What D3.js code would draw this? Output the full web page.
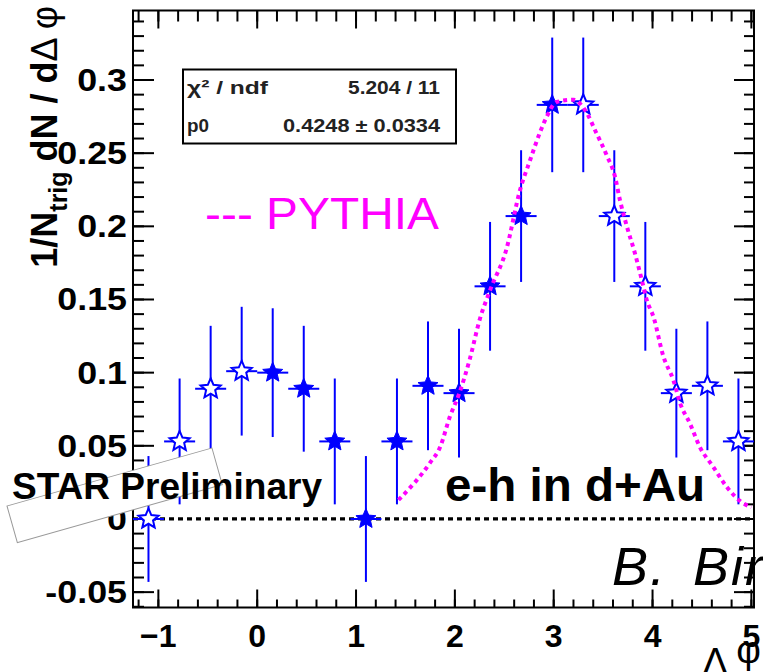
<!DOCTYPE html>
<html>
<head>
<meta charset="utf-8">
<script src="https://cdn.jsdelivr.net/npm/d3@7"></script>
<style>
  html, body { margin: 0; padding: 0; background: #fff; }
  svg { display: block; }
</style>
</head>
<body>
<svg id="chart" width="763" height="672"></svg>
<script>
// e-h azimuthal correlation in d+Au: measured bins (filled stars) and
// their reflections (open stars), with the PYTHIA expectation.
const binCentres = [-1.100, -0.785, -0.471, -0.157, 0.157, 0.471, 0.785, 1.100, 1.414, 1.728,
                    2.042, 2.356, 2.670, 2.985, 3.299, 3.613, 3.927, 4.241, 4.555, 4.869];
const yieldValues = [0.000, 0.053, 0.089, 0.101, 0.100, 0.089, 0.053, 0.000, 0.053, 0.091,
                     0.086, 0.159, 0.207, 0.283, 0.283, 0.207, 0.159, 0.086, 0.091, 0.053];
const yieldErrors = [0.043, 0.043, 0.043, 0.044, 0.044, 0.043, 0.043, 0.043, 0.043, 0.044,
                     0.044, 0.044, 0.045, 0.046, 0.046, 0.045, 0.044, 0.044, 0.044, 0.043];
const markerKinds = ["open", "open", "open", "open", "filled", "filled", "filled", "filled", "filled", "filled",
                     "filled", "filled", "filled", "filled", "open", "open", "open", "open", "open", "open"];
const binHalfWidth = 0.157;

// PYTHIA curve
const pythiaX = [1.43, 1.75, 1.85, 1.95, 2.04, 2.15, 2.25, 2.36, 2.52, 2.66, 2.76, 2.86, 2.93, 3.03,
                 3.20, 3.33, 3.43, 3.54, 3.62, 3.67, 3.74, 3.82, 3.90, 3.94, 4.01, 4.11, 4.21, 4.28,
                 4.38, 4.48, 4.61, 4.75, 4.89, 5.00];
const pythiaY = [0.013, 0.0385, 0.049, 0.070, 0.085, 0.109, 0.136, 0.157, 0.184, 0.225, 0.245, 0.264, 0.275, 0.285,
                 0.2865, 0.278, 0.264, 0.248, 0.234, 0.218, 0.200, 0.182, 0.161, 0.150, 0.138, 0.111, 0.095, 0.079,
                 0.065, 0.049, 0.036, 0.022, 0.012, 0.008];

const xTickValues = [-1, 0, 1, 2, 3, 4, 5];
const yTickValues = [-0.05, 0, 0.05, 0.1, 0.15, 0.2, 0.25, 0.3];
const yTickLabels = ["-0.05", "0", "0.05", "0.1", "0.15", "0.2", "0.25", "0.3"];
const fitRows = [["\u03c7\u00b2 / ndf", "5.204 / 11"], ["p0", "0.4248 \u00b1 0.0334"]];

const xDomain = [-0.4 * Math.PI, 1.6 * Math.PI];
const yDomain = [-0.0605, 0.3475];

const frame = { left: 133, right: 754, top: 10.5, bottom: 607.5 };
const svg = d3.select("#chart");
const FONT = "'Liberation Sans', Arial, Helvetica, sans-serif";

const x = d3.scaleLinear().domain(xDomain).range([frame.left, frame.right]);
const y = d3.scaleLinear().domain(yDomain).range([frame.bottom, frame.top]);

const minorX = d3.range(-12, 51, 2).map(v => v / 10).filter(v => v >= xDomain[0] && v <= xDomain[1]);
const minorY = d3.range(-6, 35, 1).map(v => v / 100).filter(v => v >= yDomain[0] && v <= yDomain[1]);

// ---- axes (ticks inside the frame on all four sides)
const gAxes = svg.append("g").attr("stroke", "#000").attr("fill", "none");

function ticks(values, len, side) {
  values.forEach(v => {
    if (side === "bottom") gAxes.append("line").attr("x1", x(v)).attr("x2", x(v)).attr("y1", frame.bottom).attr("y2", frame.bottom - len).attr("stroke-width", 2);
    if (side === "top") gAxes.append("line").attr("x1", x(v)).attr("x2", x(v)).attr("y1", frame.top).attr("y2", frame.top + len).attr("stroke-width", 2);
    if (side === "left") gAxes.append("line").attr("y1", y(v)).attr("y2", y(v)).attr("x1", frame.left).attr("x2", frame.left + len).attr("stroke-width", 2);
    if (side === "right") gAxes.append("line").attr("y1", y(v)).attr("y2", y(v)).attr("x1", frame.right).attr("x2", frame.right - len).attr("stroke-width", 2);
  });
}
ticks(minorX, 8, "bottom");
ticks(xTickValues, 18, "bottom");
ticks(minorX, 11, "top");
ticks(xTickValues, 18, "top");
ticks(minorY, 11, "left");
ticks(yTickValues, 21, "left");
ticks(minorY, 10, "right");
ticks(yTickValues, 20, "right");

gAxes.append("rect")
  .attr("x", frame.left).attr("y", frame.top)
  .attr("width", frame.right - frame.left).attr("height", frame.bottom - frame.top)
  .attr("stroke-width", 2);

// tick labels
svg.append("g").selectAll("text").data(xTickValues).join("text")
  .attr("x", d => x(d)).attr("y", 647)
  .attr("text-anchor", "middle")
  .attr("font-family", FONT).attr("font-weight", "bold").attr("font-size", 32)
  .text(d => d3.format("d")(d));

svg.append("g").selectAll("text").data(yTickValues).join("text")
  .attr("transform", d => `translate(127,${y(d) + 11}) scale(1.12,1)`)
  .attr("text-anchor", "end")
  .attr("font-family", FONT).attr("font-weight", "bold").attr("font-size", 32)
  .text((d, i) => yTickLabels[i]);

// axis titles
const yTitle = svg.append("text")
  .attr("transform", "translate(57,6) rotate(-90)")
  .attr("text-anchor", "end")
  .attr("font-family", FONT).attr("font-weight", "bold").attr("font-size", 36);
yTitle.append("tspan").text("1/N");
yTitle.append("tspan").attr("dy", 10).attr("font-size", 25).text("trig");
yTitle.append("tspan").attr("dy", -10).text(" dN / d");
yTitle.append("tspan").attr("font-weight", "normal").text("\u0394 \u03c6");

const xTitle = svg.append("text")
  .attr("x", 761).attr("y", 675)
  .attr("text-anchor", "end")
  .attr("font-family", FONT).attr("font-size", 38);
xTitle.append("tspan").text("\u0394 ");
xTitle.append("tspan").attr("dy", -12).text("\u03c6");

// zero line
svg.append("line")
  .attr("x1", frame.left).attr("x2", frame.right)
  .attr("y1", y(0)).attr("y2", y(0))
  .attr("stroke", "#000").attr("stroke-width", 3.2)
  .attr("stroke-dasharray", "5,4");

// ---- data points
const points = binCentres.map((c, i) => ({ x: c, v: yieldValues[i], e: yieldErrors[i], kind: markerKinds[i] }));
const blue = "#0000ff";
const gData = svg.append("g");

gData.selectAll("line.ey").data(points).join("line").attr("class", "ey")
  .attr("x1", d => x(d.x)).attr("x2", d => x(d.x))
  .attr("y1", d => y(d.v - d.e)).attr("y2", d => y(d.v + d.e))
  .attr("stroke", blue).attr("stroke-width", 2);
gData.selectAll("line.ex").data(points).join("line").attr("class", "ex")
  .attr("x1", d => x(d.x - binHalfWidth)).attr("x2", d => x(d.x + binHalfWidth))
  .attr("y1", d => y(d.v)).attr("y2", d => y(d.v))
  .attr("stroke", blue).attr("stroke-width", 2);

function starPath(rOut, rIn) {
  const pts = [];
  for (let k = 0; k < 10; k++) {
    const r = k % 2 === 0 ? rOut : rIn;
    const a = -Math.PI / 2 + k * Math.PI / 5;
    pts.push([r * Math.cos(a), r * Math.sin(a)]);
  }
  return "M" + pts.map(p => p[0].toFixed(2) + "," + p[1].toFixed(2)).join("L") + "Z";
}
const star = starPath(10.5, 4.8);

gData.selectAll("path.mk").data(points).join("path").attr("class", "mk")
  .attr("d", star)
  .attr("transform", d => `translate(${x(d.x)},${y(d.v)})`)
  .attr("fill", d => d.kind === "filled" ? blue : "#fff")
  .attr("stroke", blue).attr("stroke-width", d => d.kind === "filled" ? 1 : 2)
  .attr("stroke-linejoin", "miter");

// ---- PYTHIA curve
const line = d3.line().x(d => x(d[0])).y(d => y(d[1])).curve(d3.curveMonotoneX);
svg.append("path")
  .datum(pythiaX.map((v, i) => [v, pythiaY[i]]))
  .attr("d", line)
  .attr("fill", "none")
  .attr("stroke", "#ff00ff").attr("stroke-width", 4)
  .attr("stroke-dasharray", "4,4");

// ---- fit statistics box
svg.append("rect")
  .attr("x", 183).attr("y", 69.5).attr("width", 273).attr("height", 74)
  .attr("fill", "#fff").attr("stroke", "#000").attr("stroke-width", 2);
const fitLeftLen = [81, 22];
const fitRightLen = [92, 157];
fitRows.forEach((row, i) => {
  const base = [94, 132][i];
  svg.append("text").attr("x", 187).attr("y", base)
    .attr("font-family", FONT).attr("font-weight", "bold").attr("font-size", 19)
    .attr("textLength", fitLeftLen[i]).attr("lengthAdjust", "spacingAndGlyphs")
    .attr("fill", "#222").text(row[0]);
  svg.append("text").attr("x", 440 - fitRightLen[i]).attr("y", base)
    .attr("font-family", FONT).attr("font-weight", "bold").attr("font-size", 19)
    .attr("textLength", fitRightLen[i]).attr("lengthAdjust", "spacingAndGlyphs")
    .attr("fill", "#222").text(row[1]);
});

// ---- annotations
svg.append("text")
  .attr("x", 205).attr("y", 229)
  .attr("font-family", FONT).attr("font-size", 45)
  .attr("textLength", 234).attr("lengthAdjust", "spacingAndGlyphs")
  .attr("fill", "#ff00ff")
  .text("--- PYTHIA");

svg.append("rect")
  .attr("x", 0).attr("y", 0).attr("width", 213).attr("height", 38)
  .attr("transform", "translate(7,506) rotate(-15.8)")
  .attr("fill", "#fff").attr("stroke", "#999").attr("stroke-width", 1);

svg.append("text")
  .attr("x", 12).attr("y", 499)
  .attr("font-family", FONT).attr("font-weight", "bold").attr("font-size", 36)
  .attr("textLength", 310).attr("lengthAdjust", "spacingAndGlyphs")
  .attr("fill", "#000")
  .text("STAR Preliminary");

svg.append("text")
  .attr("x", 445).attr("y", 501)
  .attr("font-family", FONT).attr("font-weight", "bold").attr("font-size", 46)
  .attr("textLength", 260).attr("lengthAdjust", "spacingAndGlyphs")
  .attr("fill", "#000")
  .text("e-h in d+Au");

svg.append("text")
  .attr("x", 612).attr("y", 585)
  .attr("font-family", FONT).attr("font-style", "italic").attr("font-size", 54)
  .attr("word-spacing", 9).attr("letter-spacing", 2)
  .attr("fill", "#000")
  .text("B. Biritz");
</script>
</body>
</html>
